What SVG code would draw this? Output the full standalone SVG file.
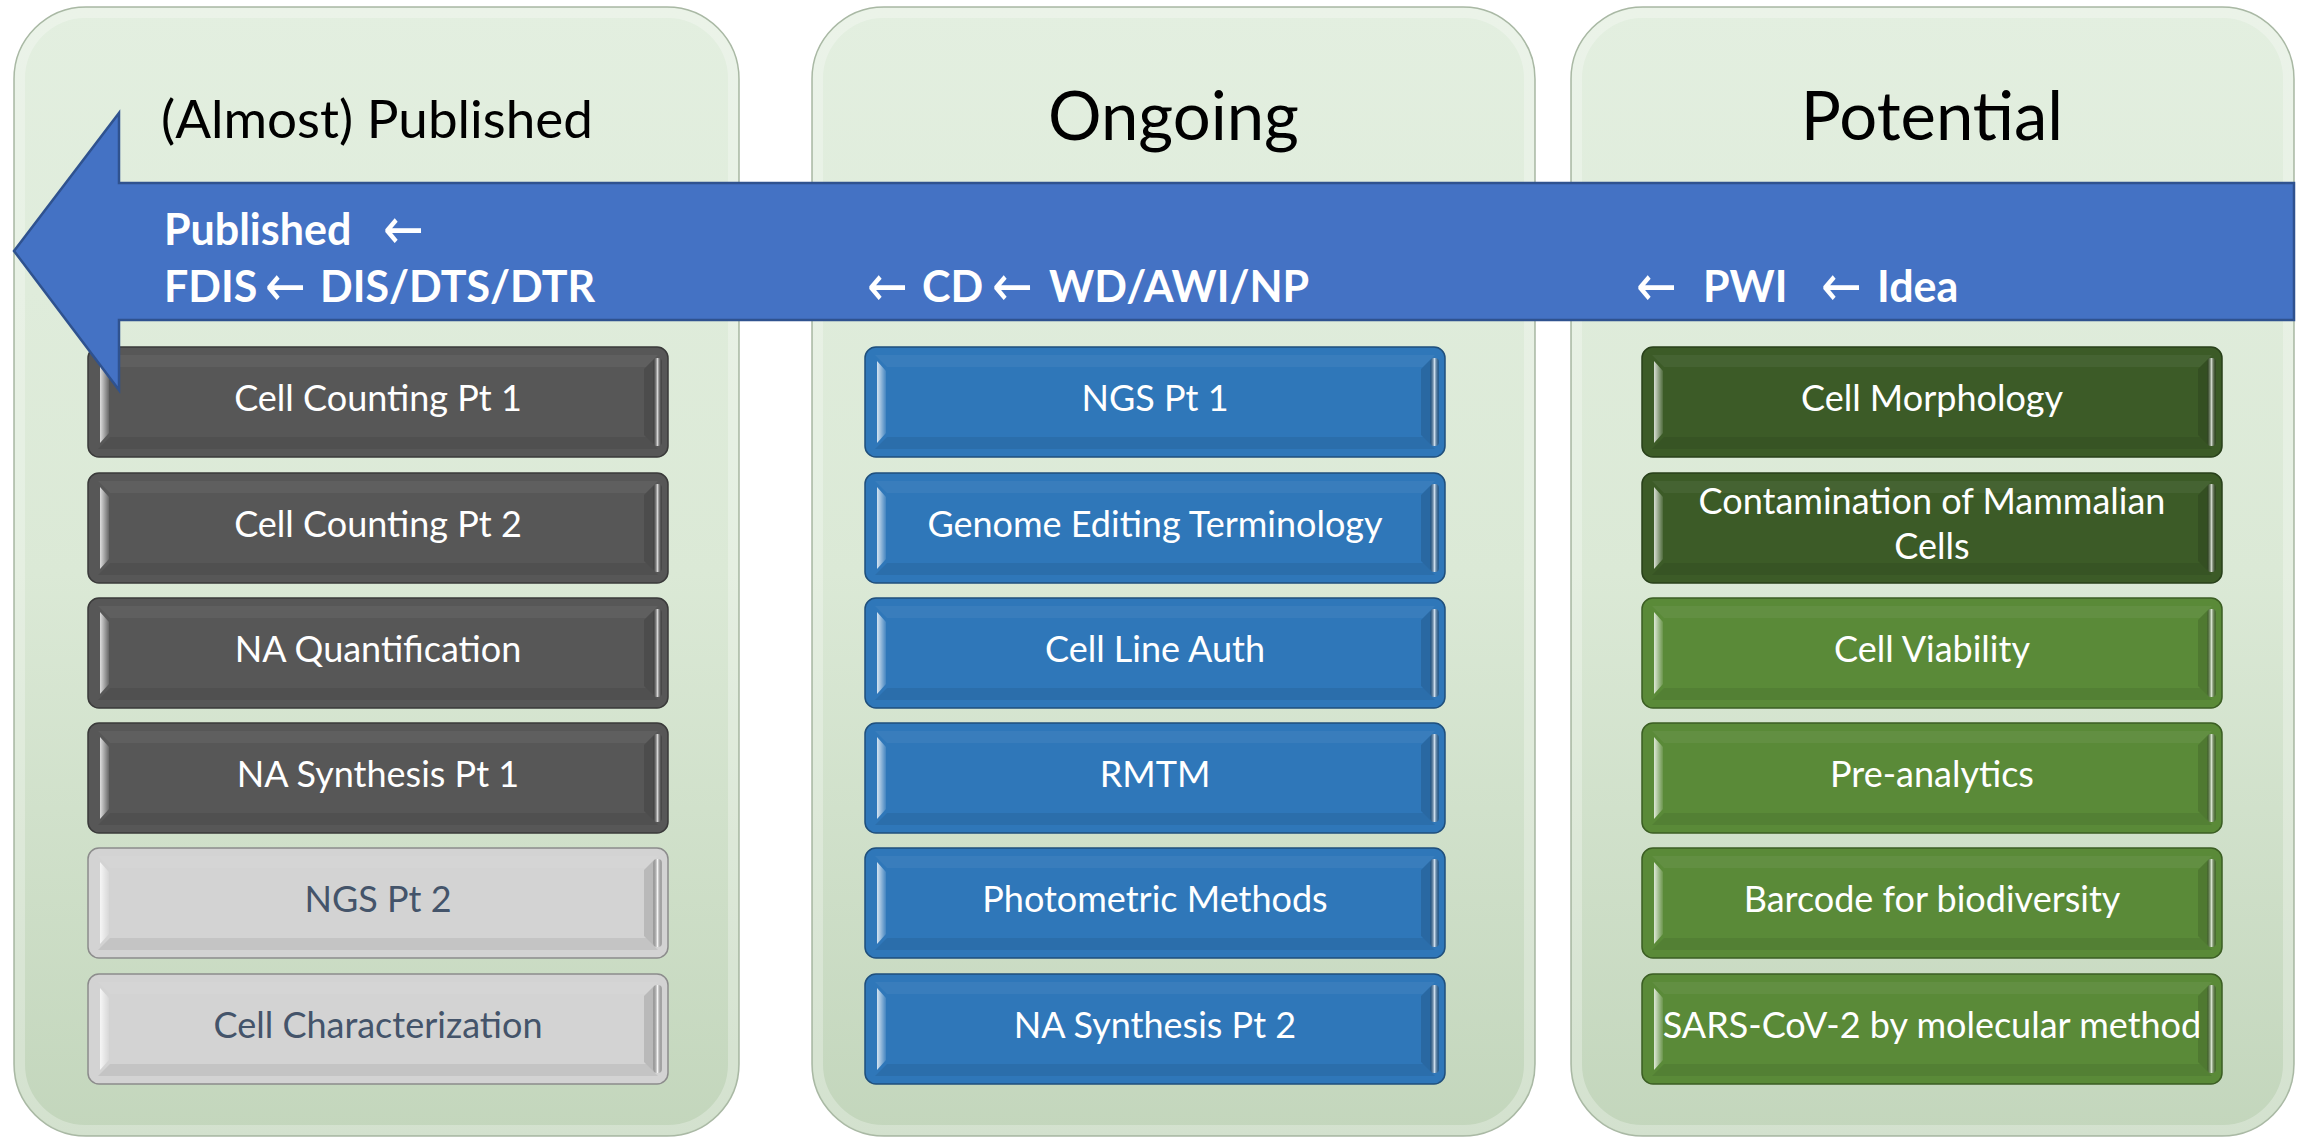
<svg xmlns="http://www.w3.org/2000/svg" xmlns:xlink="http://www.w3.org/1999/xlink" width="2303" height="1138" viewBox="0 0 2303 1138">
<defs>
  <style>
    .panel { fill: url(#panelFill); stroke: #a9b8a4; stroke-width: 1.5; }
    .panelEdge { fill: none; stroke: #ffffff; stroke-opacity: 0.28; stroke-width: 10; }
    .hdr { font-family: Lato, "Liberation Sans", sans-serif; fill: #000000; text-anchor: middle; }
    .arr { font-family: Lato, "Liberation Sans", sans-serif; font-weight: bold; font-size: 43px; fill: #ffffff; }
    .sym { font-family: "DejaVu Sans", sans-serif; font-weight: normal; font-size: 58px; fill: #ffffff; }
    .lbl { font-family: Lato, "Liberation Sans", sans-serif; font-size: 36px; fill: #ffffff; text-anchor: middle; }
    .lblDark { fill: #44546a; }
    .bDark { fill: #575757; stroke: #3a3a3a; stroke-width: 1.5; }
    .bLight { fill: #d3d3d3; stroke: #8c8c8c; stroke-width: 1.5; }
    .bBlue { fill: #2f77b9; stroke: #1f4f7c; stroke-width: 1.5; }
    .bDGreen { fill: #3c5b27; stroke: #28401a; stroke-width: 1.5; }
    .bLGreen { fill: #5a8a38; stroke: #3b5e23; stroke-width: 1.5; }
  </style>
  <linearGradient id="panelFill" x1="0" y1="0" x2="0" y2="1">
    <stop offset="0" stop-color="#e3efe0"/>
    <stop offset="0.5" stop-color="#dbe9d6"/>
    <stop offset="1" stop-color="#c3d6bc"/>
  </linearGradient>
  <linearGradient id="hlL" x1="0" y1="0" x2="1" y2="0">
    <stop offset="0" stop-color="#ffffff" stop-opacity="0.8"/>
    <stop offset="1" stop-color="#ffffff" stop-opacity="0.1"/>
  </linearGradient>
  <linearGradient id="hlR" x1="0" y1="0" x2="1" y2="0">
    <stop offset="0" stop-color="#000000" stop-opacity="0.25"/>
    <stop offset="0.5" stop-color="#ffffff" stop-opacity="0.75"/>
    <stop offset="1" stop-color="#000000" stop-opacity="0.2"/>
  </linearGradient>
  <g id="bevel">
    <polygon points="10,8 22,20 558,20 570,8" fill="#ffffff" fill-opacity="0.05"/>
    <polygon points="10,102 22,90 558,90 570,102" fill="#000000" fill-opacity="0.07"/>
    <polygon points="12,14 21,24 21,86 12,96" fill="url(#hlL)"/>
    <polygon points="556,22 565,13 565,97 556,88" fill="#000000" fill-opacity="0.12"/>
    <rect x="565" y="11" width="9" height="88" rx="4" fill="url(#hlR)"/>
  </g>
</defs>

<g id="panel-published">
  <rect class="panel" x="14" y="7" width="725" height="1129" rx="72"/>
  <rect class="panelEdge" x="20" y="13" width="713" height="1117" rx="66"/>
  <text class="hdr" x="377" y="138" font-size="53">(Almost) Published</text>
</g>
<g id="panel-ongoing">
  <rect class="panel" x="812" y="7" width="723" height="1129" rx="72"/>
  <rect class="panelEdge" x="818" y="13" width="711" height="1117" rx="66"/>
  <text class="hdr" x="1173.5" y="140" font-size="67">Ongoing</text>
</g>
<g id="panel-potential">
  <rect class="panel" x="1571" y="7" width="723" height="1129" rx="72"/>
  <rect class="panelEdge" x="1577" y="13" width="711" height="1117" rx="66"/>
  <text class="hdr" x="1932" y="140" font-size="67">Potential</text>
</g>

<!-- Column 1 -->
<g id="node-cell-counting-1">
  <rect class="bDark" x="88" y="347" width="580" height="110" rx="11"/>
  <use xlink:href="#bevel" x="88" y="347"/>
  <text class="lbl" x="378" y="411">Cell Counting Pt 1</text>
</g>
<g id="node-cell-counting-2">
  <rect class="bDark" x="88" y="473" width="580" height="110" rx="11"/>
  <use xlink:href="#bevel" x="88" y="473"/>
  <text class="lbl" x="378" y="537">Cell Counting Pt 2</text>
</g>
<g id="node-na-quantification">
  <rect class="bDark" x="88" y="598" width="580" height="110" rx="11"/>
  <use xlink:href="#bevel" x="88" y="598"/>
  <text class="lbl" x="378" y="662">NA Quantification</text>
</g>
<g id="node-na-synthesis-1">
  <rect class="bDark" x="88" y="723" width="580" height="110" rx="11"/>
  <use xlink:href="#bevel" x="88" y="723"/>
  <text class="lbl" x="378" y="787">NA Synthesis Pt 1</text>
</g>
<g id="node-ngs-2">
  <rect class="bLight" x="88" y="848" width="580" height="110" rx="11"/>
  <use xlink:href="#bevel" x="88" y="848"/>
  <text class="lbl lblDark" x="378" y="912">NGS Pt 2</text>
</g>
<g id="node-cell-characterization">
  <rect class="bLight" x="88" y="974" width="580" height="110" rx="11"/>
  <use xlink:href="#bevel" x="88" y="974"/>
  <text class="lbl lblDark" x="378" y="1038">Cell Characterization</text>
</g>

<!-- Column 2 -->
<g id="node-ngs-1">
  <rect class="bBlue" x="865" y="347" width="580" height="110" rx="11"/>
  <use xlink:href="#bevel" x="865" y="347"/>
  <text class="lbl" x="1155" y="411">NGS Pt 1</text>
</g>
<g id="node-genome-editing">
  <rect class="bBlue" x="865" y="473" width="580" height="110" rx="11"/>
  <use xlink:href="#bevel" x="865" y="473"/>
  <text class="lbl" x="1155" y="537">Genome Editing Terminology</text>
</g>
<g id="node-cell-line-auth">
  <rect class="bBlue" x="865" y="598" width="580" height="110" rx="11"/>
  <use xlink:href="#bevel" x="865" y="598"/>
  <text class="lbl" x="1155" y="662">Cell Line Auth</text>
</g>
<g id="node-rmtm">
  <rect class="bBlue" x="865" y="723" width="580" height="110" rx="11"/>
  <use xlink:href="#bevel" x="865" y="723"/>
  <text class="lbl" x="1155" y="787">RMTM</text>
</g>
<g id="node-photometric">
  <rect class="bBlue" x="865" y="848" width="580" height="110" rx="11"/>
  <use xlink:href="#bevel" x="865" y="848"/>
  <text class="lbl" x="1155" y="912">Photometric Methods</text>
</g>
<g id="node-na-synthesis-2">
  <rect class="bBlue" x="865" y="974" width="580" height="110" rx="11"/>
  <use xlink:href="#bevel" x="865" y="974"/>
  <text class="lbl" x="1155" y="1038">NA Synthesis Pt 2</text>
</g>

<!-- Column 3 -->
<g id="node-cell-morphology">
  <rect class="bDGreen" x="1642" y="347" width="580" height="110" rx="11"/>
  <use xlink:href="#bevel" x="1642" y="347"/>
  <text class="lbl" x="1932" y="411">Cell Morphology</text>
</g>
<g id="node-contamination">
  <rect class="bDGreen" x="1642" y="473" width="580" height="110" rx="11"/>
  <use xlink:href="#bevel" x="1642" y="473"/>
  <text class="lbl" x="1932" y="514">Contamination of Mammalian</text>
  <text class="lbl" x="1932" y="559">Cells</text>
</g>
<g id="node-cell-viability">
  <rect class="bLGreen" x="1642" y="598" width="580" height="110" rx="11"/>
  <use xlink:href="#bevel" x="1642" y="598"/>
  <text class="lbl" x="1932" y="662">Cell Viability</text>
</g>
<g id="node-pre-analytics">
  <rect class="bLGreen" x="1642" y="723" width="580" height="110" rx="11"/>
  <use xlink:href="#bevel" x="1642" y="723"/>
  <text class="lbl" x="1932" y="787">Pre-analytics</text>
</g>
<g id="node-barcode">
  <rect class="bLGreen" x="1642" y="848" width="580" height="110" rx="11"/>
  <use xlink:href="#bevel" x="1642" y="848"/>
  <text class="lbl" x="1932" y="912">Barcode for biodiversity</text>
</g>
<g id="node-sars">
  <rect class="bLGreen" x="1642" y="974" width="580" height="110" rx="11"/>
  <use xlink:href="#bevel" x="1642" y="974"/>
  <text class="lbl" x="1932" y="1038">SARS-CoV-2 by molecular method</text>
</g>

<!-- Connector: big process arrow -->
<g id="connectors">
  <polygon points="2294,183 119,183 119,113 14,251 119,390 119,320 2294,320" fill="#4472c4" stroke="#2f528f" stroke-width="2.5" stroke-linejoin="miter"/>
  <text class="arr" x="164" y="245">Published</text>
  <text class="sym" transform="translate(383,249) scale(0.84,1)">←</text>
  <text class="arr" x="164" y="302">FDIS</text>
  <text class="sym" transform="translate(265,306) scale(0.84,1)">←</text>
  <text class="arr" x="320" y="302">DIS/DTS/DTR</text>
  <text class="sym" transform="translate(867,306) scale(0.84,1)">←</text>
  <text class="arr" x="922" y="302">CD</text>
  <text class="sym" transform="translate(992,306) scale(0.84,1)">←</text>
  <text class="arr" x="1049" y="302">WD/AWI/NP</text>
  <text class="sym" transform="translate(1636,306) scale(0.84,1)">←</text>
  <text class="arr" x="1703" y="302">PWI</text>
  <text class="sym" transform="translate(1821,306) scale(0.84,1)">←</text>
  <text class="arr" x="1877" y="302">Idea</text>
</g>
</svg>
